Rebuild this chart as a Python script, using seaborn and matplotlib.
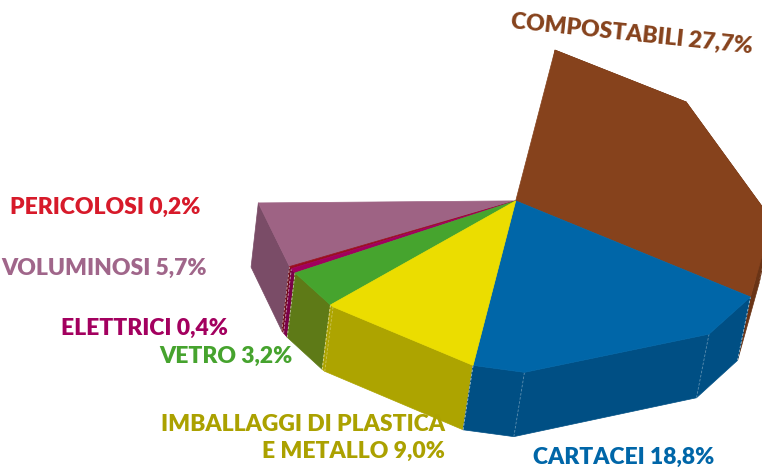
"""
Torta 3D della raccolta differenziata (composizione percentuale)
"""
import numpy as np
import matplotlib
matplotlib.use('Agg')
import matplotlib.pyplot as plt
from matplotlib import font_manager
import seaborn as sns
from mpl_toolkits.mplot3d.art3d import Poly3DCollection

sns.set_theme(style='white')
# carattere stretto se disponibile, altrimenti Lato
nomi = {f.name for f in font_manager.fontManager.ttflist}
if 'Liberation Sans Narrow' in nomi:
    FONT, FSIZE, FWEIGHT = 'Liberation Sans Narrow', 18, 'bold'
else:
    FONT, FSIZE, FWEIGHT = 'Lato', 16.5, 'heavy'
plt.rcParams['font.family'] = [FONT, 'DejaVu Sans']

# Dati (in senso orario a partire dall'alto)
categorie = ['COMPOSTABILI', 'CARTACEI', 'IMBALLAGGI DI PLASTICA\nE METALLO',
             'VETRO', 'ELETTRICI', 'PERICOLOSI', 'VOLUMINOSI']
valori = [27.7, 18.8, 9.0, 3.2, 0.4, 0.2, 5.7]
etichette_pct = ['27,7%', '18,8%', '9,0%', '3,2%', '0,4%', '0,2%', '5,7%']

col_sopra = ['#86421C', '#0066A8', '#EBDD00', '#46A42E', '#A1005E', '#9A0E20', '#9E6384']
col_lato = ['#6A3416', '#004F84', '#ADA400', '#5E7A17', '#7A0048', '#6E0B17', '#7A4C67']
col_testo = ['#86421C', '#0066A8', '#ABA100', '#46A32E', '#A3005F', '#D71A2A', '#A0668A']

# posizione etichette (pixel, ancoraggio)
pos_testo = [(632, 34, 'center', -6), (624, 457, 'center', 0), (445, 438, 'right', 0),
             (293, 356, 'right', 0), (228, 328, 'right', 0), (200, 207, 'right', 0),
             (207, 268, 'right', 0)]

START = 86.5        # angolo iniziale (gradi)
GRADI_PCT = 3.87    # gradi per punto percentuale
H = 0.32            # spessore della torta
PASSO = 45          # lati del poligono
FASE = 7.5          # rotazione della griglia dei vertici


def rim_angles(a0, a1):
    """angoli del bordo da a0 a a1 (decrescente) con i vertici della griglia"""
    grid = np.arange(np.ceil((a1 - FASE) / PASSO) * PASSO, a0 - FASE, PASSO) + FASE
    grid = grid[(grid > a1) & (grid < a0)]
    return np.concatenate([[a0], grid[::-1], [a1]])


fig = plt.figure(figsize=(7.62, 4.68), dpi=100)
ax = fig.add_axes([0.189, -0.281, 0.937, 1.526], projection='3d')
ax.set_proj_type('persp', focal_length=1.2)
ax.view_init(elev=39, azim=-90, roll=-9)
ax.computed_zorder = False
ax.set_axis_off()

limiti = START - np.concatenate([[0], np.cumsum(valori)]) * GRADI_PCT
tops, walls, wall_cols, top_cols, spigoli = [], [], [], [], []
for i in range(len(valori)):
    ang = np.radians(rim_angles(limiti[i], limiti[i + 1]))
    xs, ys = np.cos(ang), np.sin(ang)
    tops.append([(0, 0, H)] + [(x, y, H) for x, y in zip(xs, ys)])
    top_cols.append(col_sopra[i])
    for j in range(len(ang) - 1):
        walls.append([(xs[j], ys[j], 0), (xs[j + 1], ys[j + 1], 0),
                      (xs[j + 1], ys[j + 1], H), (xs[j], ys[j], H)])
        wall_cols.append(col_lato[i])
    # spigoli verticali tratteggiati (esclusi gli estremi della torta)
    for j in range(len(ang)):
        if (i == 0 and j == 0) or (i == len(valori) - 1 and j == len(ang) - 1):
            continue
        spigoli.append((xs[j], ys[j]))

pc_w = Poly3DCollection(walls, facecolors=wall_cols, edgecolors=wall_cols, linewidths=0.5, zorder=1)
pc_t = Poly3DCollection(tops, facecolors=top_cols, edgecolors=top_cols, linewidths=0.5, zorder=3)
ax.add_collection3d(pc_w)
for x, y in spigoli:
    ax.plot([x, x], [y, y], [0, H], color='white', lw=0.6, alpha=0.35,
            ls=(0, (3, 2)), zorder=2)
ax.add_collection3d(pc_t)
ax.set_xlim(-1, 1)
ax.set_ylim(-1, 1)
ax.set_zlim(0, H)
ax.set_box_aspect((2, 2, H))

for i, cat in enumerate(categorie):
    x, y, ha, rot = pos_testo[i]
    fig.text(x / 762, 1 - y / 468, f'{cat} {etichette_pct[i]}', color=col_testo[i],
             fontsize=FSIZE, fontweight=FWEIGHT, ha=ha, va='center', rotation=rot,
             rotation_mode='anchor', multialignment='right', linespacing=1.3)

plt.savefig('out.png', dpi=100)
plt.close()
